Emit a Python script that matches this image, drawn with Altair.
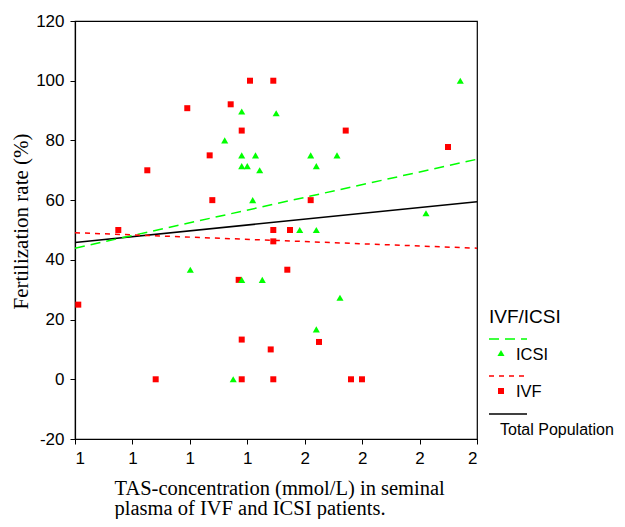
import altair as alt
import pandas as pd

# ---- data ----
ivf_x = [1.2955, 1.3711, 1.4047, 1.4453, 1.3903, 1.3345, 1.2259, 1.3391, 1.1754, 1.4453,
         1.4453, 1.5714, 1.7495, 1.5104, 1.4744, 1.1057, 1.3850, 1.3903, 1.4408, 1.2405,
         1.3903, 1.4453, 1.4697, 1.5249, 1.5806, 1.5997]
ivf_y = [90.8, 92.1, 100, 100, 83.3, 75, 70, 60, 50, 50,
         46.2, 83.3, 77.8, 60, 50, 25, 33.3, 13.3, 10, 0,
         0, 0, 36.7, 12.5, 0, 0]

icsi_x = [1.3903, 1.4503, 1.3607, 1.3903, 1.4143, 1.3903, 1.4000, 1.4216, 1.4094, 1.7709,
          1.5104, 1.5562, 1.5202, 1.7112, 1.4913, 1.5202, 1.3008, 1.3903, 1.4261, 1.3755,
          1.5614, 1.5202]
icsi_y = [89.7, 89.1, 80, 75, 75, 71.4, 71.4, 70, 60, 100,
          75, 75, 71.4, 55.6, 50, 50, 36.7, 33.3, 33.3, 0,
          27.3, 16.7]

fit_x = [1.1, 1.8]
fit_total = [45.8, 59.5]
fit_icsi = [43.9, 73.7]
fit_ivf = [49.1, 43.9]

x_ticks = [1.1, 1.2, 1.3, 1.4, 1.5, 1.6, 1.7, 1.8]
y_ticks = [-20, 0, 20, 40, 60, 80, 100, 120]

GREEN = "#00ff00"
RED = "#ff0000"

ivf_df = pd.DataFrame({"x": ivf_x, "y": ivf_y})
icsi_df = pd.DataFrame({"x": icsi_x, "y": icsi_y})
fit_df = pd.DataFrame({"x": fit_x, "total": fit_total, "icsi": fit_icsi, "ivf": fit_ivf})

xscale = alt.Scale(domain=[1.1, 1.8], nice=False, zero=False)
yscale = alt.Scale(domain=[-20, 120], nice=False, zero=False)

xaxis = alt.Axis(
    values=x_ticks, format=".0f",
    title=["TAS-concentration (mmol/L) in seminal", "plasma of IVF and ICSI patients."],
    titleFont="Liberation Serif", titleFontSize=20.5, titleFontWeight="normal",
    titleAlign="left", titleAnchor="start", titleX=39, titleY=55,
    titleBaseline="alphabetic", titleLineHeight=20,
)
yaxis = alt.Axis(
    values=y_ticks, labelExpr="'' + datum.value",
    title="Fertilization rate (%)",
    titleFont="Liberation Serif", titleFontSize=21, titleFontWeight="normal",
    titleAngle=270, titleAlign="center", titleBaseline="alphabetic",
    titleX=-48, titleY=200,
)

base_x = alt.X("x:Q", scale=xscale, axis=xaxis)

ivf_pts = alt.Chart(ivf_df).mark_point(shape="square", filled=True, size=36, color=RED, opacity=1).encode(
    x=base_x, y=alt.Y("y:Q", scale=yscale, axis=yaxis)
)
icsi_pts = alt.Chart(icsi_df).mark_point(shape="triangle-up", filled=True, size=50, color=GREEN, opacity=1).encode(
    x=alt.X("x:Q", scale=xscale), y=alt.Y("y:Q", scale=yscale)
)

line_total = alt.Chart(fit_df).mark_line(color="black", strokeWidth=1.5).encode(
    x=alt.X("x:Q", scale=xscale), y=alt.Y("total:Q", scale=yscale)
)
line_icsi = alt.Chart(fit_df).mark_line(color=GREEN, strokeWidth=1.5, strokeDash=[10, 6]).encode(
    x=alt.X("x:Q", scale=xscale), y=alt.Y("icsi:Q", scale=yscale)
)
line_ivf = alt.Chart(fit_df).mark_line(color=RED, strokeWidth=1.5, strokeDash=[5, 5]).encode(
    x=alt.X("x:Q", scale=xscale), y=alt.Y("ivf:Q", scale=yscale)
)

# ---- custom legend (drawn right of the plot) ----
one = pd.DataFrame({"a": [0]})
LX0, LX1 = 414, 452

leg_title = alt.Chart(one).mark_text(text="IVF/ICSI", align="left", baseline="alphabetic",
                                     font="Liberation Sans", fontSize=19, color="black").encode(
    x=alt.value(LX0), y=alt.value(302))
leg_g_line = alt.Chart(one).mark_rule(color=GREEN, strokeWidth=1.5, strokeDash=[10, 6]).encode(
    x=alt.value(LX0), x2=alt.value(LX1), y=alt.value(318))
leg_g_pt = alt.Chart(one).mark_point(shape="triangle-up", filled=True, size=50, color=GREEN, opacity=1).encode(
    x=alt.value(426), y=alt.value(332))
leg_g_txt = alt.Chart(one).mark_text(text="ICSI", align="left", baseline="alphabetic",
                                     font="Liberation Sans", fontSize=16.5, color="black").encode(
    x=alt.value(441), y=alt.value(339))
leg_r_line = alt.Chart(one).mark_rule(color=RED, strokeWidth=1.5, strokeDash=[5, 5]).encode(
    x=alt.value(LX0), x2=alt.value(LX1), y=alt.value(355))
leg_r_pt = alt.Chart(one).mark_point(shape="square", filled=True, size=36, color=RED, opacity=1).encode(
    x=alt.value(426), y=alt.value(370))
leg_r_txt = alt.Chart(one).mark_text(text="IVF", align="left", baseline="alphabetic",
                                     font="Liberation Sans", fontSize=16.5, color="black").encode(
    x=alt.value(441), y=alt.value(376))
leg_k_line = alt.Chart(one).mark_rule(color="black", strokeWidth=1.5).encode(
    x=alt.value(LX0), x2=alt.value(LX1), y=alt.value(393))
leg_k_txt = alt.Chart(one).mark_text(text="Total Population", align="left", baseline="alphabetic",
                                     font="Liberation Sans", fontSize=16, color="black").encode(
    x=alt.value(425), y=alt.value(414))

chart = alt.layer(
    ivf_pts, icsi_pts, line_total, line_icsi, line_ivf,
    leg_title, leg_g_line, leg_g_pt, leg_g_txt,
    leg_r_line, leg_r_pt, leg_r_txt, leg_k_line, leg_k_txt,
).properties(
    width=402, height=418,
    autosize=alt.AutoSizeParams(type="none"),
    padding={"left": 67, "top": 13, "right": 140, "bottom": 80},
    background="white",
).configure_view(
    stroke="black", strokeWidth=1.2
).configure_axis(
    grid=False, domainColor="black", domainWidth=1.2, tickColor="black", tickSize=5,
    labelFont="Liberation Sans", labelFontSize=17, labelColor="black", labelPadding=6,
    titleColor="black",
)

chart.save("out.html", embed_options={"renderer": "svg", "actions": False})
